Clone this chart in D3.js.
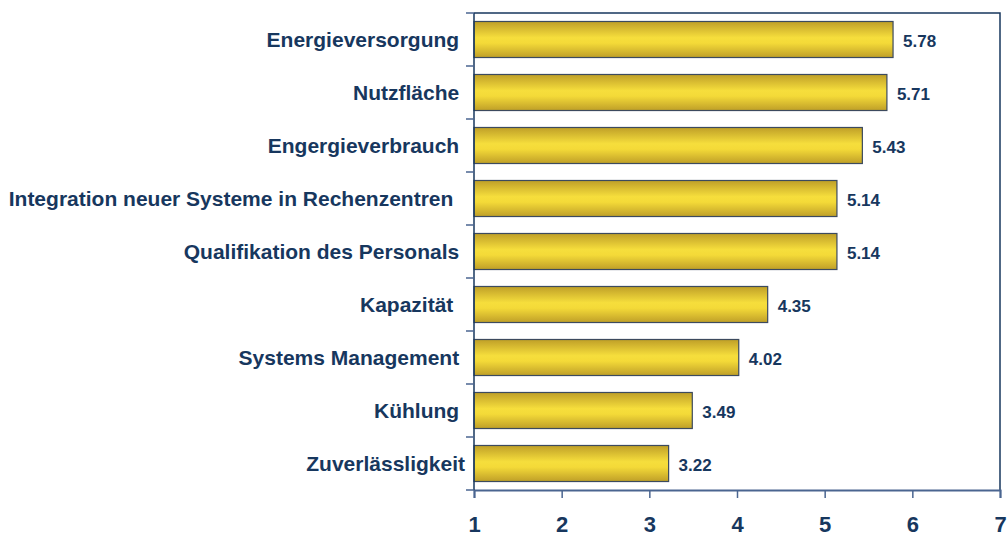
<!DOCTYPE html>
<html>
<head>
<meta charset="utf-8">
<script src="https://cdn.jsdelivr.net/npm/d3@7"></script>
<style>
  body { margin: 0; background: #fff; }
  text { font-family: "Liberation Sans", Arial, sans-serif; font-weight: bold; }
</style>
</head>
<body>
<div id="wrapper"></div>
<script>
// data (trailing spaces kept as in the original labels)
const categories = [
  "Energieversorgung ",
  "Nutzfläche ",
  "Engergieverbrauch ",
  "Integration neuer Systeme in Rechenzentren  ",
  "Qualifikation des Personals ",
  "Kapazität  ",
  "Systems Management ",
  "Kühlung ",
  "Zuverlässligkeit"
]
const values = [5.78, 5.71, 5.43, 5.14, 5.14, 4.35, 4.02, 3.49, 3.22]
const xTicks = [1, 2, 3, 4, 5, 6, 7]

const data = categories.map((c, i) => ({ name: c, value: values[i] }))

const navy = "#17375e"

// dimensions
let dimensions = {
  width: 1008,
  height: 536,
  margins: { top: 13, right: 8, bottom: 46, left: 474 }
}
dimensions.boundedWidth = dimensions.width - dimensions.margins.left - dimensions.margins.right
dimensions.boundedHeight = dimensions.height - dimensions.margins.top - dimensions.margins.bottom

const wrapper = d3.select("#wrapper")
  .append("svg")
    .attr("width", dimensions.width)
    .attr("height", dimensions.height)

// bar gradient
const grad = wrapper.append("defs").append("linearGradient")
  .attr("id", "barGrad")
  .attr("x1", 0).attr("y1", 0).attr("x2", 0).attr("y2", 1)
grad.append("stop").attr("offset", "0%").attr("stop-color", "#bf9f28")
grad.append("stop").attr("offset", "45%").attr("stop-color", "#f6de3c")
grad.append("stop").attr("offset", "60%").attr("stop-color", "#f4da38")
grad.append("stop").attr("offset", "100%").attr("stop-color", "#bf9f28")

const bounds = wrapper.append("g")
  .attr("transform", `translate(${dimensions.margins.left}, ${dimensions.margins.top})`)

// scales
const xScale = d3.scaleLinear()
  .domain([1, 7])
  .range([0, dimensions.boundedWidth])

const yScale = d3.scaleBand()
  .domain(categories)
  .range([0, dimensions.boundedHeight])
  .paddingInner(0.32)
  .paddingOuter(0.16)

// frame (top and right)
bounds.append("path")
  .attr("d", `M0,0H${dimensions.boundedWidth}V${dimensions.boundedHeight}`)
  .attr("fill", "none")
  .attr("stroke", navy)
  .attr("stroke-width", 1.5)

// bars
bounds.selectAll(".bar")
  .data(data)
  .join("rect")
    .attr("class", "bar")
    .attr("x", xScale(1))
    .attr("y", d => yScale(d.name))
    .attr("width", d => xScale(d.value) - xScale(1))
    .attr("height", yScale.bandwidth())
    .attr("fill", "url(#barGrad)")
    .attr("stroke", "#3c4a5e")
    .attr("stroke-width", 1.2)

// value labels
bounds.selectAll(".val")
  .data(data)
  .join("text")
    .attr("class", "val")
    .attr("x", d => xScale(d.value) + 10)
    .attr("y", d => yScale(d.name) + yScale.bandwidth() / 2 + 2)
    .attr("dy", "0.35em")
    .attr("fill", navy)
    .style("font-size", "17px")
    .text(d => d.value.toFixed(2))

// x axis
const xAxis = bounds.append("g")
  .attr("transform", `translate(0, ${dimensions.boundedHeight})`)
  .call(d3.axisBottom(xScale).tickValues(xTicks).tickFormat(d3.format("d")).tickSize(8).tickPadding(18))
xAxis.select(".domain").attr("stroke", "#4a6590").attr("stroke-width", 2)
xAxis.selectAll(".tick line").attr("stroke", "#4a6590").attr("stroke-width", 1.5)
xAxis.selectAll(".tick text")
  .attr("fill", navy)
  .style("font-size", "22px")
  .style("font-family", "'Liberation Sans', Arial, sans-serif")
  .style("font-weight", "bold")

// y axis line
bounds.append("line")
  .attr("x1", 0).attr("x2", 0)
  .attr("y1", 0).attr("y2", dimensions.boundedHeight)
  .attr("stroke", navy)
  .attr("stroke-width", 1.5)

// y ticks at category boundaries
const boundaries = d3.range(categories.length + 1).map(i => i * dimensions.boundedHeight / categories.length)
bounds.selectAll(".ytick")
  .data(boundaries)
  .join("line")
    .attr("class", "ytick")
    .attr("x1", -8).attr("x2", 0)
    .attr("y1", d => d).attr("y2", d => d)
    .attr("stroke", "#4a6590")
    .attr("stroke-width", 1.5)

// category labels
bounds.selectAll(".cat")
  .data(data)
  .join("text")
    .attr("class", "cat")
    .attr("x", -9)
    .attr("y", d => yScale(d.name) + yScale.bandwidth() / 2)
    .attr("dy", "0.35em")
    .attr("text-anchor", "end")
    .attr("fill", navy)
    .style("font-size", "21px")
    .style("white-space", "pre")
    .text(d => d.name)
</script>
</body>
</html>
